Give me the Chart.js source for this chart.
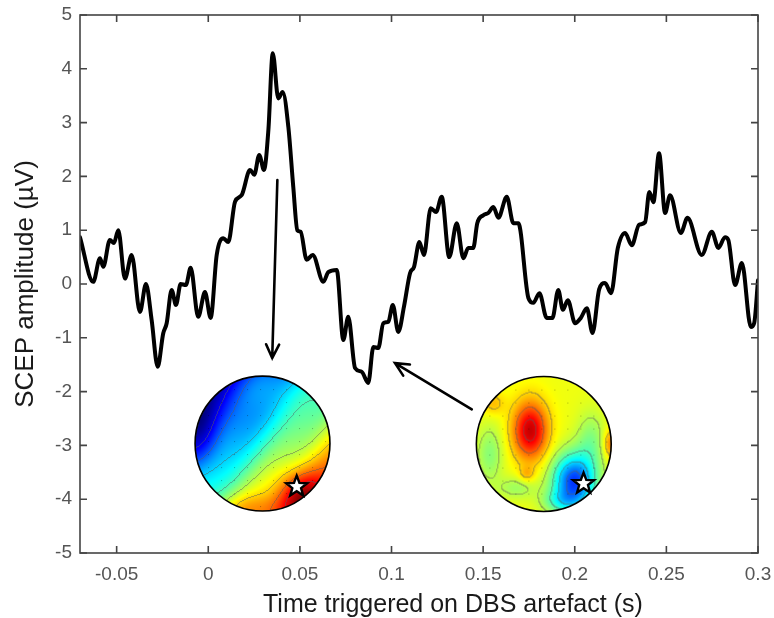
<!DOCTYPE html>
<html>
<head>
<meta charset="utf-8">
<script src="https://cdn.jsdelivr.net/npm/chart.js@4/dist/chart.umd.min.js"></script>
<style>
  html, body { margin: 0; padding: 0; background: #fff; }
  canvas { display: block; }
</style>
</head>
<body>
<canvas id="scepChart" width="774" height="618"></canvas>
<script>
// Axis ticks
const xTicks = [-0.05, 0, 0.05, 0.1, 0.15, 0.2, 0.25, 0.3];
const xTickLabels = ['-0.05', '0', '0.05', '0.1', '0.15', '0.2', '0.25', '0.3'];
const yTicks = [-5, -4, -3, -2, -1, 0, 1, 2, 3, 4, 5];
const yTickLabels = ['-5', '-4', '-3', '-2', '-1', '0', '1', '2', '3', '4', '5'];
const xTitle = 'Time triggered on DBS artefact (s)';
const yTitle = 'SCEP amplitude (µV)';

// Waveform (time in s, amplitude in µV)
const timeS = [
  -0.07, -0.0628, -0.0591, -0.0573, -0.0537, -0.0515, -0.0491, -0.0455, -0.0418, -0.0373,
  -0.034, -0.0309, -0.0276, -0.0246, -0.0227, -0.02, -0.0176, -0.0151, -0.0122, -0.0096,
  -0.0055, -0.0018, 0.0013, 0.0046, 0.0082, 0.0109, 0.0146, 0.0182, 0.0228, 0.0251,
  0.0278, 0.0304, 0.0328, 0.0352, 0.0382, 0.0406, 0.0437, 0.0464, 0.0486, 0.0504,
  0.0537, 0.057, 0.0628, 0.0655, 0.0701, 0.0737, 0.0764, 0.0801, 0.0837, 0.0873,
  0.0901, 0.0928, 0.0955, 0.0983, 0.1007, 0.1037, 0.1068, 0.1101, 0.1123, 0.1152,
  0.1177, 0.1214, 0.1243, 0.1274, 0.1315, 0.1356, 0.1392, 0.1419, 0.1446, 0.1468,
  0.1501, 0.1528, 0.1556, 0.1583, 0.1629, 0.1665, 0.1692, 0.1747, 0.1774, 0.1807,
  0.1847, 0.1878, 0.191, 0.1935, 0.1962, 0.2002, 0.2033, 0.2066, 0.2097, 0.2133,
  0.2165, 0.2198, 0.2235, 0.2275, 0.2311, 0.2351, 0.2384, 0.2407, 0.2429, 0.246,
  0.2493, 0.252, 0.2579, 0.2615, 0.2693, 0.2748, 0.2784, 0.282, 0.2838, 0.2875,
  0.2912, 0.2961, 0.2979, 0.3
];
const scepUV = [
  0.87, 0.04, 0.48, 0.32, 0.82, 0.76, 1.0, 0.1, 0.54, -0.52,
  0.0, -0.67, -1.54, -0.92, -0.73, -0.11, -0.39, 0.0, -0.02, 0.3,
  -0.61, -0.15, -0.63, 0.54, 0.85, 0.78, 1.53, 1.65, 2.12, 2.03,
  2.4, 2.12, 2.86, 4.29, 3.45, 3.57, 2.92, 1.8, 1.0, 0.97,
  0.45, 0.54, 0.04, 0.22, 0.26, -1.04, -0.61, -1.56, -1.63, -1.84,
  -1.17, -1.19, -0.73, -0.7, -0.39, -0.89, -0.42, 0.2, 0.32, 0.78,
  0.54, 1.41, 1.34, 1.62, 0.5, 1.13, 0.48, 0.67, 0.67, 1.13,
  1.28, 1.32, 1.43, 1.23, 1.62, 1.13, 1.13, -0.26, -0.35, -0.17,
  -0.63, -0.63, -0.11, -0.48, -0.3, -0.73, -0.63, -0.45, -0.91, -0.1,
  0.02, -0.17, 0.67, 0.95, 0.72, 1.1, 1.15, 1.71, 1.52, 2.43,
  1.32, 1.65, 0.95, 1.23, 0.54, 0.97, 0.67, 0.87, 0.82, -0.02,
  0.39, -0.8, -0.73, 0.07
];

// Inset scalp maps and arrows (data coordinates)
const topoCenters = [[0.0296, -2.965], [0.1831, -2.974]];
const topoRadiusX = 0.0368;
const starOffsets = [[0.507, 0.64], [0.59, 0.587]];
const arrowStarts = [[0.0377, 1.93], [0.1438, -2.33]];
const arrowEnds = [[0.0349, -1.375], [0.1019, -1.47]];

const FONT = "'Liberation Sans', Arial, Helvetica, sans-serif";

function gauss(u, v, cu, cv, su, sv) {
  return Math.exp(-((u - cu) * (u - cu) / (2 * su * su) + (v - cv) * (v - cv) / (2 * sv * sv)));
}

// rough shapes of the two scalp maps
const topoFields = [
  (u, v) => 0.41 + 0.24 * u + 0.28 * v
    + 0.1 * gauss(u, v, 0.0, -0.9, 0.5, 0.3)
    - 0.09 * gauss(u, v, -0.9, -0.1, 0.18, 0.35)
    + 0.2 * gauss(u, v, 0.55, 0.75, 0.25, 0.25)
    + 0.08 * gauss(u, v, -0.2, 0.95, 0.4, 0.15)
    + 0.025 * Math.sin(7 * u + 4 * v),
  (u, v) => 0.61
    + 0.32 * gauss(u, v, -0.2, -0.2, 0.18, 0.3)
    - 0.43 * gauss(u, v, 0.45, 0.55, 0.22, 0.28)
    - 0.12 * gauss(u, v, 0.25, 0.85, 0.2, 0.12)
    - 0.1 * gauss(u, v, -0.8, 0.15, 0.14, 0.3)
    - 0.08 * gauss(u, v, -0.4, 0.65, 0.2, 0.12)
    + 0.08 * gauss(u, v, -0.25, 0.45, 0.08, 0.08)
    + 0.08 * gauss(u, v, -0.75, -0.6, 0.12, 0.12)
    - 0.1 * gauss(u, v, 0.7, -0.05, 0.15, 0.3)
    + 0.15 * gauss(u, v, 1.0, 0.0, 0.08, 0.15)
];

function jet(t) {
  const c = x => Math.max(0, Math.min(1, x));
  return [c(1.5 - Math.abs(4 * t - 3)), c(1.5 - Math.abs(4 * t - 2)), c(1.5 - Math.abs(4 * t - 1))];
}

function drawTopo(ctx, cx, cy, r, field, star) {
  const size = Math.ceil(2 * r) + 2;
  const off = document.createElement('canvas');
  off.width = size; off.height = size;
  const octx = off.getContext('2d');
  const img = octx.createImageData(size, size);
  const vals = new Float32Array(size * size);
  for (let j = 0; j < size; j++) {
    for (let i = 0; i < size; i++) {
      vals[j * size + i] = Math.max(0, Math.min(1, field((i + 0.5 - size / 2) / r, (j + 0.5 - size / 2) / r)));
    }
  }
  const levels = 9;
  for (let j = 0; j < size; j++) {
    for (let i = 0; i < size; i++) {
      const u = (i + 0.5 - size / 2) / r, v = (j + 0.5 - size / 2) / r;
      if (u * u + v * v > 1) continue;
      const t = vals[j * size + i];
      let [rr, gg, bb] = jet(t);
      const lv = Math.floor(t * levels);
      const right = i + 1 < size ? Math.floor(vals[j * size + i + 1] * levels) : lv;
      const below = j + 1 < size ? Math.floor(vals[(j + 1) * size + i] * levels) : lv;
      if (right !== lv || below !== lv) {
        rr = rr * 0.5 + 0.18; gg = gg * 0.5 + 0.18; bb = bb * 0.5 + 0.18;
      }
      const k = (j * size + i) * 4;
      img.data[k] = rr * 255; img.data[k + 1] = gg * 255; img.data[k + 2] = bb * 255; img.data[k + 3] = 255;
    }
  }
  octx.putImageData(img, 0, 0);
  ctx.drawImage(off, cx - size / 2, cy - size / 2);

  // electrode dots
  ctx.fillStyle = 'rgba(0,0,0,0.3)';
  for (let dy = -r; dy <= r; dy += 13) {
    for (let dx = -r; dx <= r; dx += 13) {
      if (dx * dx + dy * dy < (r - 4) * (r - 4)) ctx.fillRect(cx + dx, cy + dy, 1, 1);
    }
  }

  ctx.beginPath();
  ctx.arc(cx, cy, r, 0, Math.PI * 2);
  ctx.strokeStyle = '#000';
  ctx.lineWidth = 1.6;
  ctx.stroke();

  // star
  const sx = cx + star[0] * r, sy = cy + star[1] * r;
  ctx.beginPath();
  for (let p = 0; p < 10; p++) {
    const a = -Math.PI / 2 + p * Math.PI / 5;
    const rad = p % 2 === 0 ? 11 : 4.6;
    const px = sx + rad * Math.cos(a), py = sy + rad * Math.sin(a);
    if (p === 0) ctx.moveTo(px, py); else ctx.lineTo(px, py);
  }
  ctx.closePath();
  ctx.fillStyle = '#fff';
  ctx.fill();
  ctx.lineWidth = 2.4;
  ctx.lineJoin = 'miter';
  ctx.strokeStyle = '#000';
  ctx.stroke();
}

function drawArrow(ctx, x0, y0, x1, y1) {
  ctx.save();
  ctx.strokeStyle = '#000';
  ctx.lineWidth = 2.6;
  ctx.lineCap = 'round';
  ctx.beginPath();
  ctx.moveTo(x0, y0);
  ctx.lineTo(x1, y1);
  const ang = Math.atan2(y1 - y0, x1 - x0);
  const hl = 15;
  ctx.moveTo(x1 - hl * Math.cos(ang - 0.45), y1 - hl * Math.sin(ang - 0.45));
  ctx.lineTo(x1, y1);
  ctx.lineTo(x1 - hl * Math.cos(ang + 0.45), y1 - hl * Math.sin(ang + 0.45));
  ctx.stroke();
  ctx.restore();
}

// frame with inward ticks on all sides, like the original figure
const framePlugin = {
  id: 'frame',
  afterDraw(chart) {
    const { ctx, chartArea: a, scales } = chart;
    ctx.save();
    ctx.strokeStyle = '#444';
    ctx.lineWidth = 1.6;
    ctx.strokeRect(a.left, a.top, a.right - a.left, a.bottom - a.top);
    ctx.beginPath();
    const tl = 7;
    xTicks.forEach(v => {
      const px = scales.x.getPixelForValue(v);
      ctx.moveTo(px, a.bottom); ctx.lineTo(px, a.bottom - tl);
      ctx.moveTo(px, a.top); ctx.lineTo(px, a.top + tl);
    });
    yTicks.forEach(v => {
      const py = scales.y.getPixelForValue(v);
      ctx.moveTo(a.left, py); ctx.lineTo(a.left + tl, py);
      ctx.moveTo(a.right, py); ctx.lineTo(a.right - tl, py);
    });
    ctx.stroke();

    // x axis title (sits a bit right of the axes centre in the figure)
    ctx.fillStyle = '#1a1a1a';
    ctx.font = '25px ' + FONT;
    ctx.textAlign = 'center';
    ctx.textBaseline = 'alphabetic';
    ctx.fillText(xTitle, scales.x.getPixelForValue(0.1335), chart.height - 6);
    ctx.restore();

    // arrows
    arrowStarts.forEach((s, i) => {
      const e = arrowEnds[i];
      drawArrow(ctx,
        scales.x.getPixelForValue(s[0]), scales.y.getPixelForValue(s[1]),
        scales.x.getPixelForValue(e[0]), scales.y.getPixelForValue(e[1]));
    });

    // scalp maps
    topoCenters.forEach((c, i) => {
      const cx = scales.x.getPixelForValue(c[0]);
      const cy = scales.y.getPixelForValue(c[1]);
      const r = scales.x.getPixelForValue(c[0] + topoRadiusX) - cx;
      drawTopo(ctx, cx, cy, r, topoFields[i], starOffsets[i]);
    });
  }
};

const ctx = document.getElementById('scepChart').getContext('2d');
new Chart(ctx, {
  type: 'line',
  data: {
    datasets: [{
      data: timeS.map((t, i) => ({ x: t, y: scepUV[i] })),
      borderColor: '#000',
      borderWidth: 4,
      pointRadius: 0,
      cubicInterpolationMode: 'monotone',
      borderJoinStyle: 'round',
      borderCapStyle: 'round',
      fill: false
    }]
  },
  options: {
    responsive: false,
    animation: false,
    layout: { padding: { top: 15, right: 16, left: 0, bottom: 0 } },
    plugins: { legend: { display: false }, tooltip: { enabled: false } },
    scales: {
      x: {
        type: 'linear',
        min: -0.07,
        max: 0.3,
        afterBuildTicks: scale => { scale.ticks = xTicks.map(v => ({ value: v })); },
        afterFit: scale => {
          scale.height = 65;
          scale.paddingLeft = 0;
          scale.paddingRight = 0;
        },
        grid: { display: false, drawTicks: false },
        border: { display: false },
        ticks: {
          autoSkip: false,
          maxRotation: 0,
          padding: 10,
          color: '#555',
          font: { family: FONT, size: 19 },
          callback: (v, i) => xTickLabels[i]
        },
        title: { display: false }
      },
      y: {
        min: -5,
        max: 5,
        afterBuildTicks: scale => { scale.ticks = yTicks.map(v => ({ value: v })); },
        afterFit: scale => {
          scale.width = 80;
          scale.paddingTop = 0;
          scale.paddingBottom = 0;
        },
        grid: { display: false, drawTicks: false },
        border: { display: false },
        ticks: {
          autoSkip: false,
          padding: 8,
          color: '#555',
          font: { family: FONT, size: 19 },
          callback: (v, i) => yTickLabels[i]
        },
        title: {
          display: true,
          text: yTitle,
          color: '#1a1a1a',
          font: { family: FONT, size: 26 },
          padding: { top: 10, bottom: 0 }
        }
      }
    }
  },
  plugins: [framePlugin]
});
</script>
</body>
</html>
